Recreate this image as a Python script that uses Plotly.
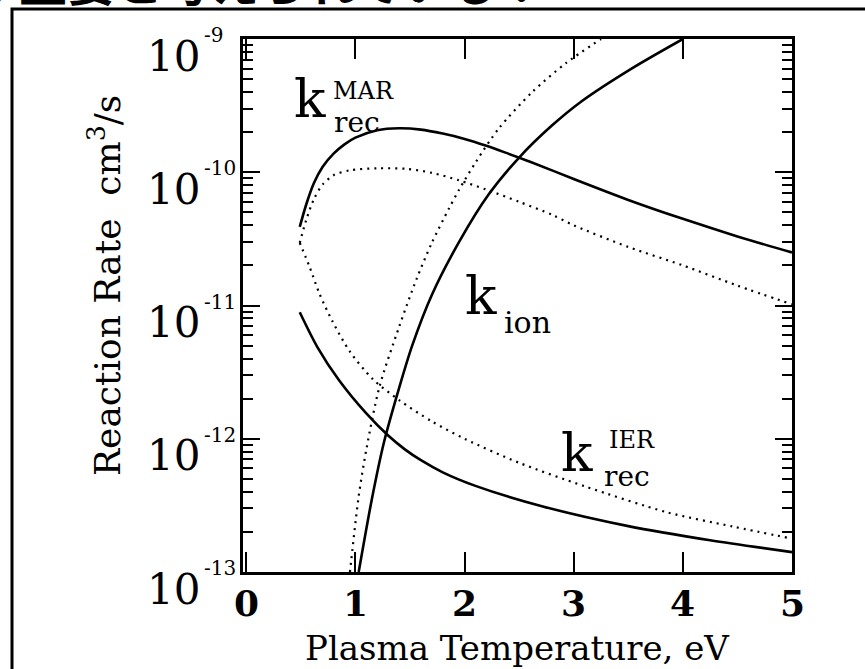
import plotly.graph_objects as go

# ---------------- data ----------------
# k_rec^MAR (solid)
T_mar_solid = [0.49, 0.55, 0.62, 0.7, 0.8, 0.9, 1.0, 1.2, 1.4, 1.6, 1.8, 2.0, 2.2, 2.4, 2.6, 3.0, 3.5, 4.0, 4.5, 5.0]
k_mar_solid = [3.89e-11, 5.75e-11, 8.3e-11, 1.10e-10, 1.38e-10, 1.62e-10, 1.82e-10, 2.07e-10, 2.14e-10, 2.09e-10,
               1.95e-10, 1.78e-10, 1.58e-10, 1.38e-10, 1.20e-10, 8.9e-11, 6.2e-11, 4.47e-11, 3.3e-11, 2.5e-11]
# k_rec^MAR (dotted)
T_mar_dot = [0.49, 0.55, 0.62, 0.7, 0.8, 0.95, 1.2, 1.47, 1.7, 1.95, 2.2, 2.5, 2.8, 3.0, 3.5, 4.0, 4.5, 5.0]
k_mar_dot = [2.95e-11, 4.4e-11, 6.3e-11, 8.1e-11, 9.5e-11, 1.035e-10, 1.07e-10, 1.06e-10, 9.9e-11, 8.7e-11,
             7.4e-11, 6.0e-11, 4.8e-11, 4.0e-11, 2.75e-11, 2.0e-11, 1.41e-11, 1.02e-11]
# k_rec^IER (solid)
T_ier_solid = [0.49, 0.65, 0.85, 1.1, 1.3, 1.45, 1.6, 1.8, 2.1, 2.7, 3.5, 4.25, 5.0]
k_ier_solid = [8.9e-12, 4.9e-12, 2.75e-12, 1.55e-12, 1.057e-12, 8.36e-13, 6.9e-13, 5.6e-13, 4.43e-13,
               3.13e-13, 2.21e-13, 1.73e-13, 1.41e-13]
# k_rec^IER (dotted)
T_ier_dot = [0.49, 0.58, 0.67, 0.79, 0.95, 1.16, 1.4, 1.7, 2.0, 2.5, 3.1, 3.86, 4.45, 5.0]
k_ier_dot = [2.95e-11, 1.95e-11, 1.23e-11, 7.6e-12, 4.5e-12, 2.8e-12, 1.95e-12, 1.35e-12, 1.0e-12,
             6.6e-13, 4.4e-13, 2.8e-13, 2.2e-13, 1.78e-13]
# k_ion (solid)
T_ion_solid = [1.03, 1.15, 1.26, 1.4, 1.52, 1.7, 1.95, 2.22, 2.5, 2.8, 3.07, 3.53, 4.0]
k_ion_solid = [1.0e-13, 3.5e-13, 9.3e-13, 2.4e-12, 5.0e-12, 1.2e-11, 3.0e-11, 6.8e-11, 1.29e-10,
               2.24e-10, 3.4e-10, 6.0e-10, 1.0e-9]
# k_ion (dotted)
T_ion_dot = [0.95, 1.03, 1.10, 1.22, 1.40, 1.56, 1.70, 1.86, 1.95, 2.105, 2.315, 2.62, 2.93, 3.25]
k_ion_dot = [1.0e-13, 3.7e-13, 8.3e-13, 2.45e-12, 6.9e-12, 1.58e-11, 2.95e-11, 5.4e-11, 7.4e-11,
             1.2e-10, 2.14e-10, 4.0e-10, 6.6e-10, 1.0e-9]

x_ticks = [0, 1, 2, 3, 4, 5]
y_decades = [-13, -12, -11, -10, -9]
y_exponents = ["-13", "-12", "-11", "-10", "-9"]
minor_mult = [2, 3, 4, 5, 6, 7, 8, 9]

SERIF = "DejaVu Serif"

fig = go.Figure()

def add_curve(x, y, dotted):
    if dotted:
        line = dict(color="black", width=2.2, dash="2px,5px", shape="spline", smoothing=0.8)
    else:
        line = dict(color="black", width=2.6, shape="spline", smoothing=0.8)
    fig.add_trace(go.Scatter(x=x, y=y, mode="lines", line=line, showlegend=False, hoverinfo="skip"))

add_curve(T_mar_solid, k_mar_solid, False)
add_curve(T_mar_dot, k_mar_dot, True)
add_curve(T_ier_solid, k_ier_solid, False)
add_curve(T_ier_dot, k_ier_dot, True)
add_curve(T_ion_solid, k_ion_solid, False)
add_curve(T_ion_dot, k_ion_dot, True)

W, H = 865, 669
L, R, T, B = 243, 73, 39, 97
PW, PH = W - L - R, H - T - B

def px(xp):
    return (xp - L) / PW

def py(yp):
    return (H - B - yp) / PH

annotations = []

def label(text, x, y, size):
    annotations.append(dict(text=text, x=x, y=y, xref="x", yref="y", showarrow=False,
                            font=dict(family=SERIF, size=size, color="black"),
                            xanchor="center", yanchor="middle"))

# k_rec^MAR
label("k", 0.58, -9.45, 52)
label("MAR", 1.07, -9.39, 24)
label("rec", 1.01, -9.63, 28)
# k_ion
label("k", 2.15, -10.93, 52)
label("ion", 2.58, -11.13, 30)
# k_rec^IER
label("k", 3.03, -12.11, 52)
label("IER", 3.53, -12.01, 24)
label("rec", 3.49, -12.28, 28)

# y tick labels 10^n (base and exponent as separate texts)
for d, e in zip(y_decades, y_exponents):
    annotations.append(dict(text="10", x=px(202), y=d, xref="paper", yref="y", showarrow=False,
                            xanchor="right", yanchor="middle", yshift=-17,
                            font=dict(family=SERIF, size=42, color="black")))
    annotations.append(dict(text=e, x=px(202), y=d, xref="paper", yref="y", showarrow=False,
                            xanchor="left", yanchor="middle", yshift=4,
                            font=dict(family=SERIF, size=20, color="black")))

# x tick labels
for v in x_ticks:
    annotations.append(dict(text="<b>%d</b>" % v, x=v, y=py(603), xref="x", yref="paper", showarrow=False,
                            xanchor="center", yanchor="middle",
                            font=dict(family=SERIF, size=36, color="black")))

# axis titles
annotations.append(dict(text="Reaction Rate  cm<sup>3</sup>/s", x=px(105), y=py(286),
                        xref="paper", yref="paper", showarrow=False, textangle=-90,
                        xanchor="center", yanchor="middle",
                        font=dict(family=SERIF, size=36, color="black")))
annotations.append(dict(text="Plasma Temperature, eV", x=px(517), y=py(648),
                        xref="paper", yref="paper", showarrow=False,
                        xanchor="center", yanchor="middle",
                        font=dict(family=SERIF, size=34, color="black")))

# cut-off heading text at top of the slide
annotations.append(dict(text="<b>が重要と考えられている！</b>", x=px(548), y=py(17),
                        xref="paper", yref="paper", showarrow=False,
                        xanchor="right", yanchor="bottom",
                        font=dict(family="Noto Sans CJK JP", size=48, color="black")))

shapes = [dict(type="rect", xref="paper", yref="paper",
               x0=px(12), x1=px(885), y0=py(690), y1=py(9),
               line=dict(color="black", width=3), layer="above")]

minor_vals = [m * 10.0 ** d for d in y_decades[:-1] for m in minor_mult]

fig.update_layout(
    width=W, height=H,
    margin=dict(l=L, r=R, t=T, b=B),
    paper_bgcolor="white", plot_bgcolor="white",
    annotations=annotations, shapes=shapes,
    showlegend=False,
    xaxis=dict(range=[-0.03, 5.0], tickvals=x_ticks, showticklabels=False,
               ticks="inside", ticklen=20, tickwidth=2, tickcolor="black",
               showline=True, linewidth=3, linecolor="black", mirror="ticks",
               showgrid=False, zeroline=False),
    yaxis=dict(type="log", range=[-13, -9], tickvals=[10.0 ** d for d in y_decades],
               showticklabels=False,
               ticks="inside", ticklen=17, tickwidth=2, tickcolor="black",
               minor=dict(ticks="inside", ticklen=10, tickwidth=1.5, tickcolor="black",
                          tickvals=minor_vals, showgrid=False),
               showline=True, linewidth=3, linecolor="black", mirror="ticks",
               showgrid=False, zeroline=False),
)

fig.write_html("out.html")
